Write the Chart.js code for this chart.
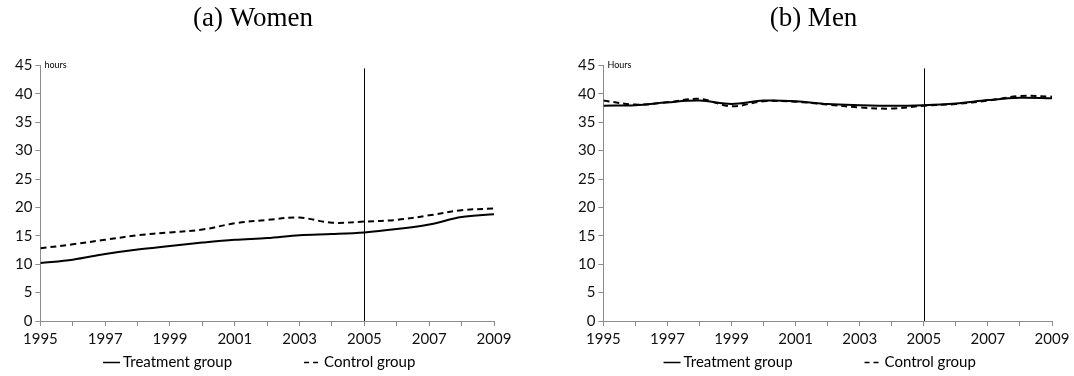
<!DOCTYPE html>
<html>
<head>
<meta charset="utf-8">
<script src="https://cdn.jsdelivr.net/npm/chart.js@4.4.1/dist/chart.umd.min.js"></script>
<style>
  html, body { margin: 0; padding: 0; background: #fff; }
  #wrap { width: 1074px; height: 376px; position: relative; }
  .panel { position: absolute; top: 0; width: 537px; height: 376px; }
  #p1 { left: 0; }
  #p2 { left: 537px; }
</style>
</head>
<body>
<div id="wrap">
  <div class="panel" id="p1"><canvas id="c1"></canvas></div>
  <div class="panel" id="p2"><canvas id="c2"></canvas></div>
</div>
<script>
// Years covered by both panels
const years = [1995, 1996, 1997, 1998, 1999, 2000, 2001, 2002, 2003, 2004, 2005, 2006, 2007, 2008, 2009];

// Weekly working hours, women
const womenTreatment = [10.2, 10.8, 11.8, 12.6, 13.2, 13.8, 14.3, 14.6, 15.1, 15.3, 15.6, 16.2, 17.0, 18.3, 18.8];
const womenControl   = [12.8, 13.5, 14.3, 15.1, 15.6, 16.1, 17.2, 17.8, 18.2, 17.3, 17.5, 17.8, 18.6, 19.5, 19.8];

// Weekly working hours, men
const menTreatment = [37.9, 38.0, 38.5, 38.8, 38.2, 38.8, 38.7, 38.2, 38.0, 37.9, 38.0, 38.3, 38.9, 39.3, 39.2];
const menControl   = [38.8, 38.1, 38.5, 39.1, 37.8, 38.7, 38.6, 38.1, 37.6, 37.4, 37.9, 38.2, 38.8, 39.6, 39.5];

// Reform year marked by a vertical line
const reformYear = 2005;

const yTicks = [0, 5, 10, 15, 20, 25, 30, 35, 40, 45];
const seriesNames = ['Treatment group', 'Control group'];

const sansFamily = 'Lato, "Open Sans", sans-serif';
const tickFont = { family: sansFamily, size: 15 };
const axisGray = '#8c8c8c';
const controlDash = [6, 4];

// Draws the vertical reform line and the small unit label above the y axis
const markerPlugin = {
  id: 'marker',
  afterDatasetsDraw(chart, args, opts) {
    const { ctx, chartArea, scales } = chart;
    const x = Math.round(scales.x.getPixelForValue(opts.year)) + 0.5;
    ctx.save();
    ctx.strokeStyle = '#000';
    ctx.lineWidth = 1;
    ctx.beginPath();
    ctx.moveTo(x, chartArea.top + 3);
    ctx.lineTo(x, chartArea.bottom);
    ctx.stroke();
    ctx.fillStyle = '#000';
    ctx.font = '9px ' + sansFamily;
    ctx.textBaseline = 'middle';
    ctx.textAlign = 'left';
    ctx.fillText(opts.unit, chartArea.left + 4, chartArea.top);
    ctx.restore();
  }
};

// Bottom legend: short line sample directly before each series name
const legendPlugin = {
  id: 'bottomLegend',
  afterDraw(chart, args, opts) {
    const { ctx, chartArea } = chart;
    const y = chart.height - opts.bottomOffset;
    ctx.save();
    ctx.font = opts.fontSize + 'px ' + sansFamily;
    ctx.textBaseline = 'middle';
    ctx.textAlign = 'left';
    ctx.fillStyle = '#000';
    const sample = 17, gapText = 3, gapItems = opts.itemGap;
    const items = chart.data.datasets.map(ds => ({
      text: ds.label,
      dash: ds.borderDash || [],
      w: sample + gapText + ctx.measureText(ds.label).width
    }));
    const total = items.reduce((s, it) => s + it.w, 0) + gapItems * (items.length - 1);
    let x = (chartArea.left + chartArea.right) / 2 - total / 2 + opts.shift;
    items.forEach(it => {
      ctx.strokeStyle = '#000';
      ctx.lineWidth = 1.5;
      ctx.setLineDash(it.dash.length ? [5, 4] : []);
      ctx.beginPath();
      ctx.moveTo(x, y + 0.5);
      ctx.lineTo(x + sample, y + 0.5);
      ctx.stroke();
      ctx.setLineDash([]);
      ctx.fillText(it.text, x + sample + gapText, y);
      x += it.w + gapItems;
    });
    ctx.restore();
  }
};

function makeChart(id, title, unit, treat, ctrl, leftPad, rightPad) {
  const toPoints = arr => years.map((y, i) => ({ x: y, y: arr[i] }));
  return new Chart(document.getElementById(id), {
    type: 'line',
    data: {
      datasets: [
        {
          label: seriesNames[0],
          data: toPoints(treat),
          borderColor: '#000',
          borderWidth: 2,
          pointRadius: 0,
          tension: 0.35
        },
        {
          label: seriesNames[1],
          data: toPoints(ctrl),
          borderColor: '#000',
          borderWidth: 2,
          borderDash: controlDash,
          pointRadius: 0,
          tension: 0.35
        }
      ]
    },
    options: {
      responsive: true,
      maintainAspectRatio: false,
      animation: false,
      layout: { padding: { left: leftPad, right: rightPad, top: 0, bottom: 24 } },
      plugins: {
        title: {
          display: true,
          text: title,
          color: '#000',
          font: { family: '"Liberation Serif", "DejaVu Serif", serif', size: 27, weight: 'normal' },
          padding: { top: 3, bottom: 30 }
        },
        legend: { display: false },
        tooltip: { enabled: false },
        marker: { year: reformYear, unit: unit },
        bottomLegend: { fontSize: 15, itemGap: 72, bottomOffset: 14, shift: -8 }
      },
      scales: {
        x: {
          type: 'linear',
          min: years[0],
          max: years[years.length - 1],
          border: { color: axisGray, width: 1 },
          grid: { drawOnChartArea: false, color: axisGray, tickLength: 5 },
          ticks: {
            stepSize: 1,
            color: '#111',
            font: tickFont,
            padding: 4,
            maxRotation: 0,
            autoSkip: false,
            callback: v => (v % 2 === 1 ? String(v) : '')
          }
        },
        y: {
          min: yTicks[0],
          max: yTicks[yTicks.length - 1],
          border: { color: axisGray, width: 1 },
          grid: { drawOnChartArea: false, color: axisGray, tickLength: 5 },
          afterBuildTicks: axis => { axis.ticks = yTicks.map(v => ({ value: v })); },
          ticks: { color: '#111', font: tickFont, padding: 3 }
        }
      }
    },
    plugins: [markerPlugin, legendPlugin]
  });
}

makeChart('c1', '(a) Women', 'hours', womenTreatment, womenControl, 12, 43);
makeChart('c2', '(b) Men', 'Hours', menTreatment, menControl, 38, 22);
</script>
</body>
</html>
